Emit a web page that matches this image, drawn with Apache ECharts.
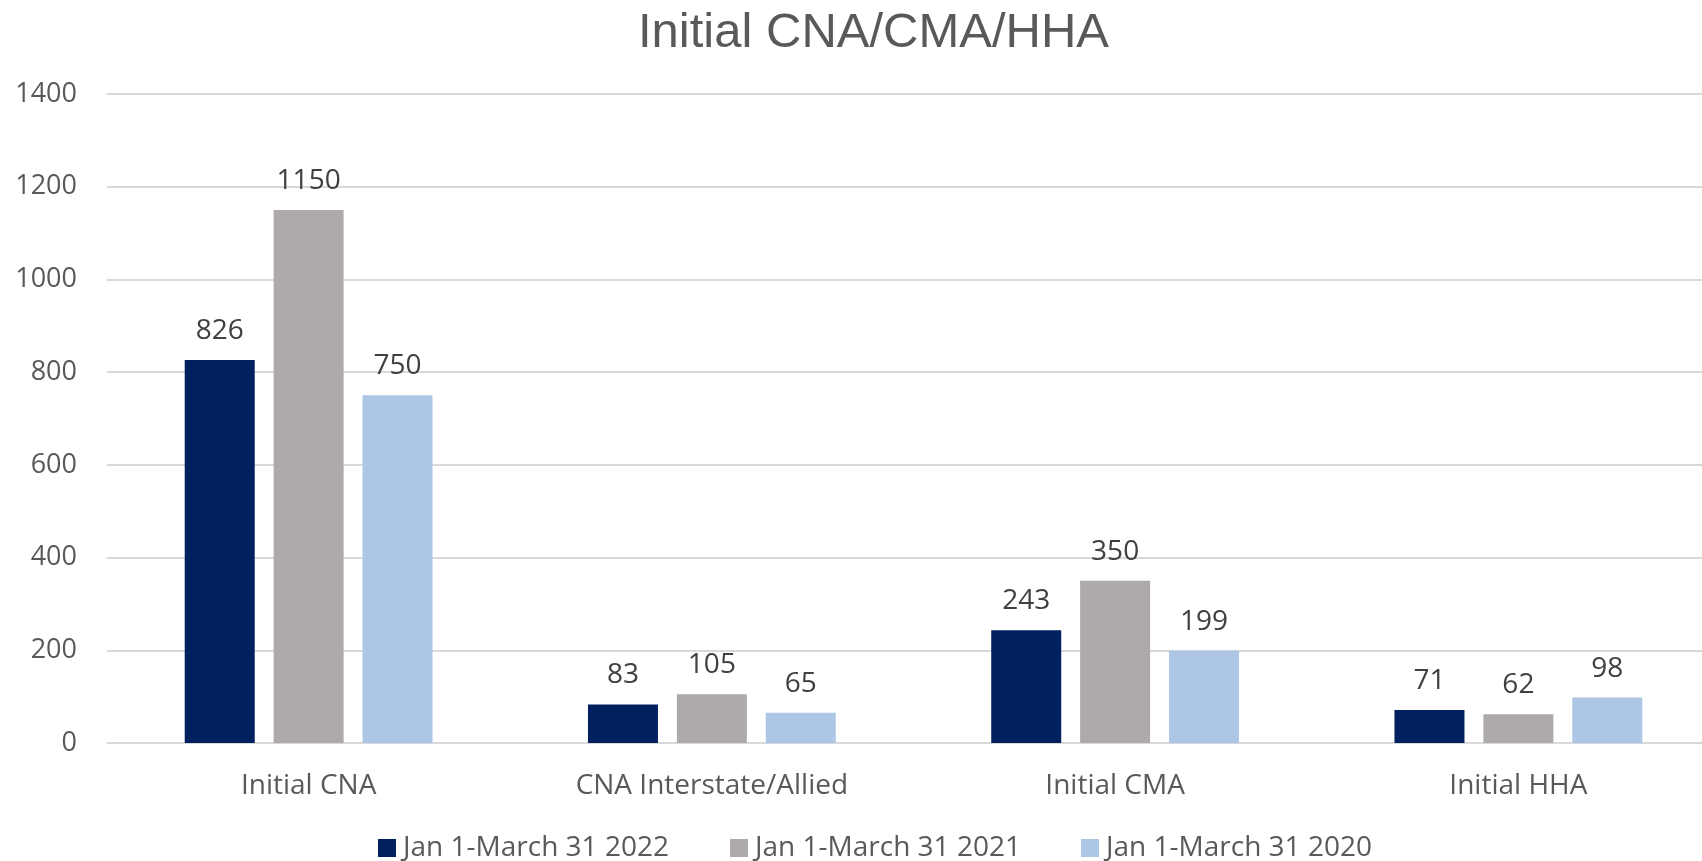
<!DOCTYPE html>
<html>
<head>
<meta charset="utf-8">
<script src="https://cdn.jsdelivr.net/npm/echarts@6/dist/echarts.min.js"></script>
<style>html,body{margin:0;padding:0;background:#fff;overflow:hidden;}#c{width:1720px;height:861px;}</style>
</head>
<body>
<div id="c"></div>
<script>
const titleText = 'Initial CNA/CMA/HHA';
const categories = ['Initial CNA', 'CNA Interstate/Allied', 'Initial CMA', 'Initial HHA'];
const seriesNames = ['Jan 1-March 31 2022', 'Jan 1-March 31 2021', 'Jan 1-March 31 2020'];
const values2022 = [826, 83, 243, 71];
const values2021 = [1150, 105, 350, 62];
const values2020 = [750, 65, 199, 98];
const colors = ['#002060', '#AEAAAA', '#ADC6E6'];
const yMin = 0, yMax = 1400, yStep = 200;

const chart = echarts.init(document.getElementById('c'), null, {renderer: 'canvas'});
const font = '"Open Sans", "Noto Sans", sans-serif';
const allValues = [values2022, values2021, values2020];
const legendLefts = [373, 725, 1076];
chart.setOption({
  animation: false,
  backgroundColor: '#fff',
  color: colors,
  title: {
    text: titleText,
    left: 633, top: 4,
    textStyle: {fontFamily: '"Liberation Sans", Arial, sans-serif', fontSize: 49, fontWeight: 'normal', color: '#595959'}
  },
  legend: seriesNames.map((n, i) => ({
    left: legendLefts[i], top: 829,
    itemWidth: 18, itemHeight: 18,
    icon: 'rect',
    textStyle: {fontFamily: font, fontSize: 28, color: '#595959', padding: [0, 0, 0, 2]},
    data: [n]
  })),
  grid: {left: 107, top: 94, width: 1613, height: 649, containLabel: false},
  xAxis: {
    type: 'category', data: categories,
    axisLine: {lineStyle: {color: '#D9D9D9', width: 2}},
    axisTick: {show: false},
    axisLabel: {fontFamily: font, fontSize: 28, color: '#595959', margin: 29}
  },
  yAxis: {
    type: 'value', min: yMin, max: yMax, interval: yStep,
    axisLine: {show: false}, axisTick: {show: false},
    splitLine: {lineStyle: {color: '#D9D9D9', width: 2}},
    axisLabel: {fontFamily: font, fontSize: 27, color: '#595959', margin: 30, formatter: v => String(v)}
  },
  series: seriesNames.map((n, i) => ({
    name: n, type: 'bar', data: allValues[i],
    barWidth: 70, barGap: '27%',
    itemStyle: {color: colors[i]},
    label: {show: true, position: 'top', distance: 15, fontFamily: font, fontSize: 28, color: '#404040'}
  }))
});
</script>
</body>
</html>
